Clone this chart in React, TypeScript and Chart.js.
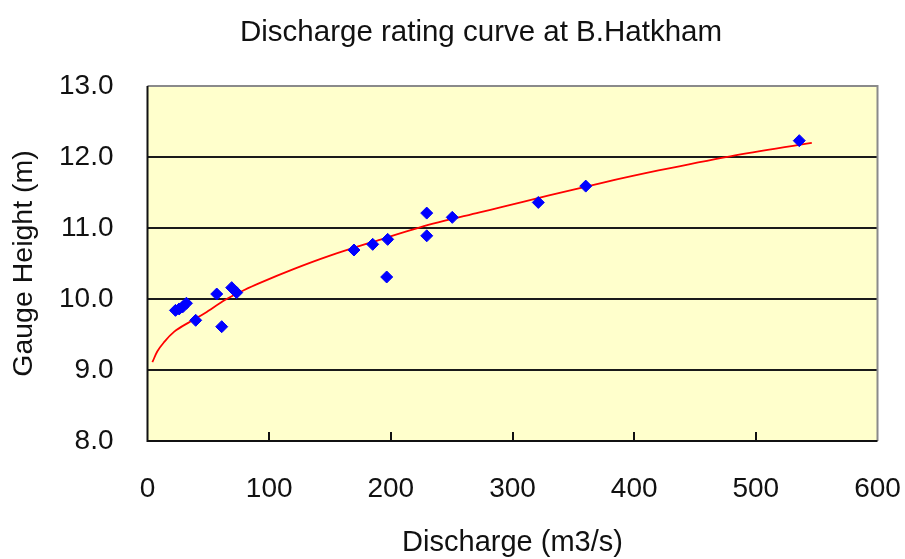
import React, { useEffect, useRef } from "react";
import { Chart, registerables } from "chart.js";

Chart.register(...registerables);

const chartTitle = "Discharge rating curve at B.Hatkham";
const xAxisTitle = "Discharge (m3/s)";
const yAxisTitle = "Gauge Height (m)";

// Observed points (discharge m3/s, gauge height m)
const dischargeObs = [23, 26, 29, 32, 39.6, 56.9, 61.0, 69.2, 73.3, 169.7, 185.1, 197.4, 196.6, 229.5, 229.5, 250.5, 321.2, 360.2, 535.7];
const gaugeObs = [9.84, 9.86, 9.89, 9.94, 9.70, 10.07, 9.61, 10.16, 10.09, 10.69, 10.77, 10.84, 10.31, 11.21, 10.89, 11.15, 11.36, 11.59, 12.23];

// Fitted rating curve
const dischargeCurve = [4, 8, 14, 22, 35, 47, 64, 80, 93, 120, 150, 190, 224, 273, 290, 330, 372, 420, 479, 546];
const gaugeCurve = [9.11, 9.26, 9.40, 9.54, 9.68, 9.80, 9.99, 10.13, 10.23, 10.42, 10.61, 10.83, 11.01, 11.22, 11.29, 11.46, 11.63, 11.81, 12.01, 12.20];

const xTicks = [0, 100, 200, 300, 400, 500, 600];
const yTicks = [8, 9, 10, 11, 12, 13];

const FONT = "'Liberation Sans', Arial, sans-serif";

export default function App() {
  const ref = useRef<HTMLCanvasElement | null>(null);

  useEffect(() => {
    if (!ref.current) return;
    const framePlugin = {
      id: "frame",
      beforeDraw(chart: any) {
        const { ctx, chartArea: a } = chart;
        ctx.save();
        ctx.fillStyle = "#FFFFCC";
        ctx.fillRect(a.left, a.top, a.right - a.left, a.bottom - a.top);
        ctx.restore();
      },
      afterDraw(chart: any) {
        const { ctx, chartArea: a } = chart;
        const xs = chart.scales.x;
        ctx.save();
        ctx.lineWidth = 2;
        // top & right (gray)
        ctx.strokeStyle = "#8a8a8a";
        ctx.beginPath();
        ctx.moveTo(a.left, a.top);
        ctx.lineTo(a.right, a.top);
        ctx.lineTo(a.right, a.bottom);
        ctx.stroke();
        // left & bottom (black)
        ctx.strokeStyle = "#111";
        ctx.beginPath();
        ctx.moveTo(a.left, a.top);
        ctx.lineTo(a.left, a.bottom);
        ctx.lineTo(a.right, a.bottom);
        ctx.stroke();
        // inside tick marks on x axis
        xTicks.slice(1, -1).forEach((v) => {
          const px = Math.round(xs.getPixelForValue(v));
          ctx.beginPath();
          ctx.moveTo(px, a.bottom);
          ctx.lineTo(px, a.bottom - 9);
          ctx.stroke();
        });
        // title
        ctx.fillStyle = "#111";
        ctx.font = `29.5px ${FONT}`;
        ctx.textAlign = "center";
        ctx.textBaseline = "middle";
        ctx.fillText(chartTitle, 481, 32.5);
        ctx.restore();
      },
    };

    const chart = new Chart(ref.current, {
      type: "scatter",
      data: {
        datasets: [
          {
            label: "Observed",
            data: dischargeObs.map((x, i) => ({ x, y: gaugeObs[i] })),
            pointStyle: "rectRot",
            pointRadius: 6,
            pointBackgroundColor: "#0000FF",
            pointBorderColor: "#0000FF",
            pointBorderWidth: 1,
            showLine: false,
          },
          {
            label: "Rating curve",
            data: dischargeCurve.map((x, i) => ({ x, y: gaugeCurve[i] })),
            showLine: true,
            borderColor: "#FF0000",
            borderWidth: 1.8,
            pointRadius: 0,
            cubicInterpolationMode: "monotone",
            fill: false,
          },
        ],
      },
      options: {
        responsive: false,
        animation: false,
        layout: { padding: { top: 86, right: 27.5, left: 0, bottom: 0 } },
        plugins: {
          legend: { display: false },
          tooltip: { enabled: false },
          title: { display: false },
        },
        scales: {
          x: {
            type: "linear",
            min: 0,
            max: 600,
            afterBuildTicks: (s: any) => {
              s.ticks = xTicks.map((v) => ({ value: v }));
            },
            afterFit: (s: any) => {
              s.height = 118;
              s.paddingLeft = 0;
              s.paddingRight = 0;
            },
            grid: { display: false, drawTicks: false },
            border: { display: false },
            ticks: {
              padding: 34,
              color: "#111",
              font: { family: FONT, size: 28, lineHeight: 1 },
              maxRotation: 0,
              autoSkip: false,
            },
            title: {
              display: true,
              text: xAxisTitle,
              color: "#111",
              font: { family: FONT, size: 29, lineHeight: 1 },
              padding: { top: 0, bottom: 1.5 },
            },
          },
          y: {
            type: "linear",
            min: 8,
            max: 13,
            afterBuildTicks: (s: any) => {
              s.ticks = yTicks.map((v) => ({ value: v }));
            },
            afterFit: (s: any) => {
              s.width = 147.5;
              s.paddingTop = 0;
              s.paddingBottom = 0;
            },
            grid: {
              drawTicks: false,
              lineWidth: 2,
              color: (c: any) =>
                c.tick && (c.tick.value === 8 || c.tick.value === 13) ? "rgba(0,0,0,0)" : "#1a1a1a",
            },
            border: { display: false },
            ticks: {
              padding: 34,
              color: "#111",
              font: { family: FONT, size: 28, lineHeight: 1 },
              callback: (v: any) => Number(v).toFixed(1),
            },
            title: {
              display: true,
              text: yAxisTitle,
              color: "#111",
              font: { family: FONT, size: 28.5, lineHeight: 1 },
              padding: { top: 10, bottom: 0 },
            },
          },
        },
      },
      plugins: [framePlugin],
    } as any);
    return () => chart.destroy();
  }, []);

  return (
    <div style={{ position: "fixed", left: 0, top: 0, width: 905, height: 559, background: "#fff" }}>
      <canvas ref={ref} width={905} height={559} style={{ display: "block" }} />
    </div>
  );
}
